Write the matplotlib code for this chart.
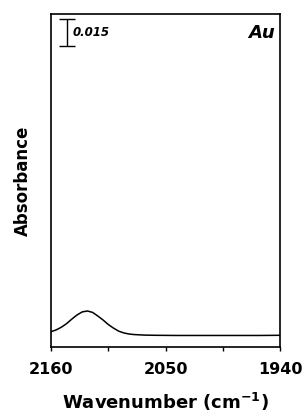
import matplotlib
matplotlib.use('Agg')
import matplotlib.pyplot as plt

# IR spectrum, Au
wavenumber = [2160, 2155, 2150, 2145, 2140, 2135, 2130, 2125, 2120, 2115,
              2110, 2105, 2100, 2095, 2090, 2085, 2080, 2070, 2060, 2040,
              2020, 2000, 1980, 1960, 1940]
absorbance = [0.0085, 0.0095, 0.0110, 0.0130, 0.0155, 0.0178, 0.0195, 0.0200,
              0.0192, 0.0172, 0.0150, 0.0125, 0.0105, 0.0088, 0.0078, 0.0072,
              0.0069, 0.0066, 0.0065, 0.0064, 0.0064, 0.0064, 0.0064, 0.0064,
              0.0065]
scale_value = 0.015
major_ticks = [2160, 2050, 1940]
minor_ticks = [2105, 1995]

plt.rcParams['font.family'] = ['DejaVu Sans']
plt.rcParams['mathtext.default'] = 'bf'

fig = plt.figure(figsize=(3.08, 4.17), dpi=100)
ax = fig.add_axes([0.1656, 0.1679, 0.7435, 0.7985])

ax.plot(wavenumber, absorbance, color='black', lw=1.1)
ax.set_xlim(2160, 1940)
ax.set_ylim(0, 0.185)

# scale bar
ax.errorbar([2144.5], [0.1745], yerr=scale_value / 2, color='black',
            capsize=6, lw=1.0, capthick=1.0)
ax.text(2139, 0.1745, '0.015', fontsize=8.5, style='italic', fontweight='bold',
        va='center', ha='left')
ax.text(1945, 0.1745, 'Au', fontsize=13, style='italic', fontweight='bold',
        va='center', ha='right')

ax.set_xticks(major_ticks)
ax.set_xticks(minor_ticks, minor=True)
ax.set_xticklabels([str(t) for t in major_ticks], fontweight='bold', fontsize=11.5)
ax.tick_params(axis='x', which='both', direction='out', length=3, width=1, pad=8)
ax.set_yticks([])
for s in ax.spines.values():
    s.set_linewidth(1.2)

ax.set_xlabel('Wavenumber (cm$^{-1}$)', fontweight='bold', fontsize=13,
              labelpad=10)
ax.set_ylabel('Absorbance', fontweight='bold', fontsize=12, labelpad=14)

fig.savefig('out.png', dpi=100)
